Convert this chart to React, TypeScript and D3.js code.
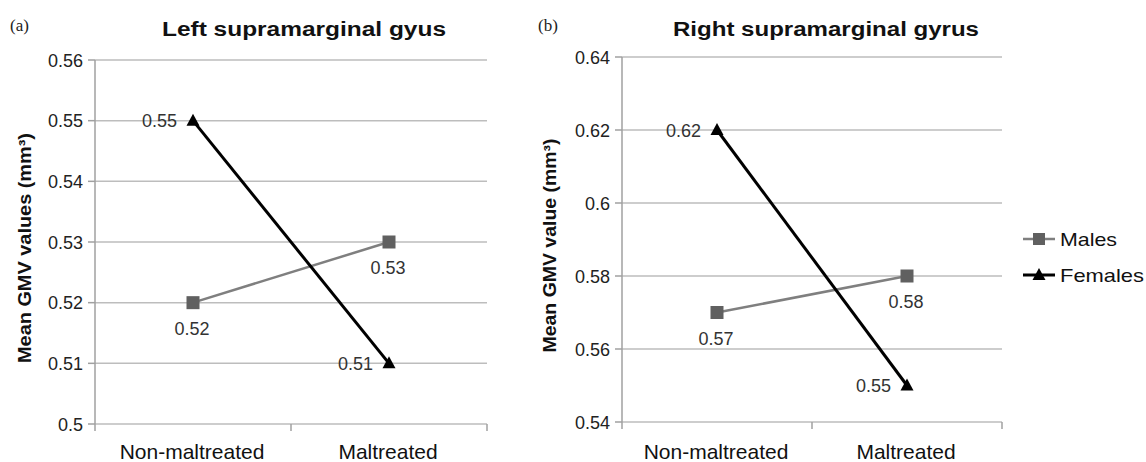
import React from 'react';
import * as d3 from 'd3';

const categories = ['Non-maltreated', 'Maltreated'];
const seriesNames = ['Males', 'Females'];
const leftMales = [0.52, 0.53];
const leftFemales = [0.55, 0.51];
const rightMales = [0.57, 0.58];
const rightFemales = [0.62, 0.55];
const leftTicks = [0.5, 0.51, 0.52, 0.53, 0.54, 0.55, 0.56];
const rightTicks = [0.54, 0.56, 0.58, 0.6, 0.62, 0.64];
const leftTitle = 'Left supramarginal gyus';
const rightTitle = 'Right supramarginal gyrus';
const leftYTitle = 'Mean GMV values (mm³)';
const rightYTitle = 'Mean GMV value (mm³)';

const FONT = 'Liberation Sans, Arial, sans-serif';
const MALE_LINE = '#7f7f7f';
const MALE_MARK = '#606060';
const GRID = '#bdbdbd';

type PanelProps = {
  x0: number; x1: number; yTop: number; yBot: number;
  domain: [number, number]; ticks: number[];
  males: number[]; females: number[];
  title: string; titleX: number; titleLen: number;
  yTitle: string; yTitleX: number; yTitleLen: number;
  tag: string; tagX: number;
};

const tri = (x: number, y: number) => `M${x},${y - 7}L${x + 6.5},${y + 5}L${x - 6.5},${y + 5}Z`;

function Panel(p: PanelProps) {
  const x = d3.scaleBand<string>().domain(categories).range([p.x0, p.x1]);
  const y = d3.scaleLinear().domain(p.domain).range([p.yBot, p.yTop]);
  const cx = (c: string) => (x(c) as number) + x.bandwidth() / 2;
  const line = d3.line<number>().x((_, i) => cx(categories[i])).y(d => y(d));
  const fmt = (v: number) => String(+v.toFixed(2));
  const yMid = (p.yTop + p.yBot) / 2 + 6;
  return (
    <g>
      <text x={p.tagX} y={31} fontFamily="Liberation Serif, Times New Roman, serif" fontSize={17} fill="#222">{p.tag}</text>
      <text x={p.titleX} y={36} textAnchor="middle" fontFamily={FONT} fontWeight="bold" fontSize={20}
        textLength={p.titleLen} lengthAdjust="spacingAndGlyphs" fill="#111">{p.title}</text>
      <text transform={`translate(${p.yTitleX},${yMid}) rotate(-90)`} textAnchor="middle" fontFamily={FONT}
        fontWeight="bold" fontSize={18} textLength={p.yTitleLen} lengthAdjust="spacingAndGlyphs" fill="#111">{p.yTitle}</text>
      {p.ticks.map(t => (
        <g key={t}>
          <line x1={p.x0} x2={p.x1} y1={y(t)} y2={y(t)} stroke={GRID} strokeWidth={1.5} />
          <line x1={p.x0 - 7} x2={p.x0} y1={y(t)} y2={y(t)} stroke="#a0a0a0" strokeWidth={1.5} />
          <text x={p.x0 - 12} y={y(t) + 6.5} textAnchor="end" fontFamily={FONT} fontSize={18} fill="#222">{fmt(t)}</text>
        </g>
      ))}
      <line x1={p.x0} x2={p.x0} y1={p.yTop} y2={p.yBot + 7} stroke="#a0a0a0" strokeWidth={1.5} />
      {[p.x0 + x.bandwidth(), p.x1].map((tx, i) => (
        <line key={i} x1={tx} x2={tx} y1={p.yBot} y2={p.yBot + 7} stroke="#a0a0a0" strokeWidth={1.5} />
      ))}
      {categories.map(c => (
        <text key={c} x={cx(c) - 1} y={459} textAnchor="middle" fontFamily={FONT} fontSize={21} fill="#111">{c}</text>
      ))}
      <path d={line(p.males) || ''} fill="none" stroke={MALE_LINE} strokeWidth={2.5} />
      <path d={line(p.females) || ''} fill="none" stroke="#000" strokeWidth={3} />
      {p.males.map((v, i) => {
        const px = cx(categories[i]); const py = y(v);
        return (
          <g key={'m' + i}>
            <rect x={px - 6.5} y={py - 6.5} width={13} height={13} fill={MALE_MARK} />
            <text x={px - 1} y={py + 32} textAnchor="middle" fontFamily={FONT} fontSize={18} fill="#333">{fmt(v)}</text>
          </g>
        );
      })}
      {p.females.map((v, i) => {
        const px = cx(categories[i]); const py = y(v);
        return (
          <g key={'f' + i}>
            <path d={tri(px, py)} fill="#000" />
            <text x={px - 16} y={py + 6.5} textAnchor="end" fontFamily={FONT} fontSize={18} fill="#333">{fmt(v)}</text>
          </g>
        );
      })}
    </g>
  );
}

export default function App() {
  return (
    <svg width={1146} height={462} style={{ position: 'absolute', left: 0, top: 0, background: '#fff' }}>
      <rect width={1146} height={462} fill="#fff" />
      <Panel x0={95} x1={487} yTop={60} yBot={424} domain={[0.5, 0.56]} ticks={leftTicks}
        males={leftMales} females={leftFemales} title={leftTitle} titleX={304} titleLen={284}
        yTitle={leftYTitle} yTitleX={31} yTitleLen={230} tag="(a)" tagX={10} />
      <Panel x0={622} x1={1002} yTop={57} yBot={422} domain={[0.54, 0.64]} ticks={rightTicks}
        males={rightMales} females={rightFemales} title={rightTitle} titleX={826} titleLen={306}
        yTitle={rightYTitle} yTitleX={556} yTitleLen={214} tag="(b)" tagX={538} />
      {seriesNames.map((s, i) => {
        const ly = 239 + i * 36;
        return (
          <g key={s}>
            <line x1={1023} x2={1055} y1={ly} y2={ly} stroke={i === 0 ? MALE_LINE : '#000'} strokeWidth={i === 0 ? 2.5 : 3} />
            {i === 0
              ? <rect x={1033} y={ly - 6} width={12} height={12} fill={MALE_MARK} />
              : <path d={tri(1039, ly)} fill="#000" />}
            <text x={1060} y={ly + 7} fontFamily={FONT} fontSize={19} fill="#111"
              textLength={i === 0 ? 57 : 84} lengthAdjust="spacingAndGlyphs">{s}</text>
          </g>
        );
      })}
    </svg>
  );
}
